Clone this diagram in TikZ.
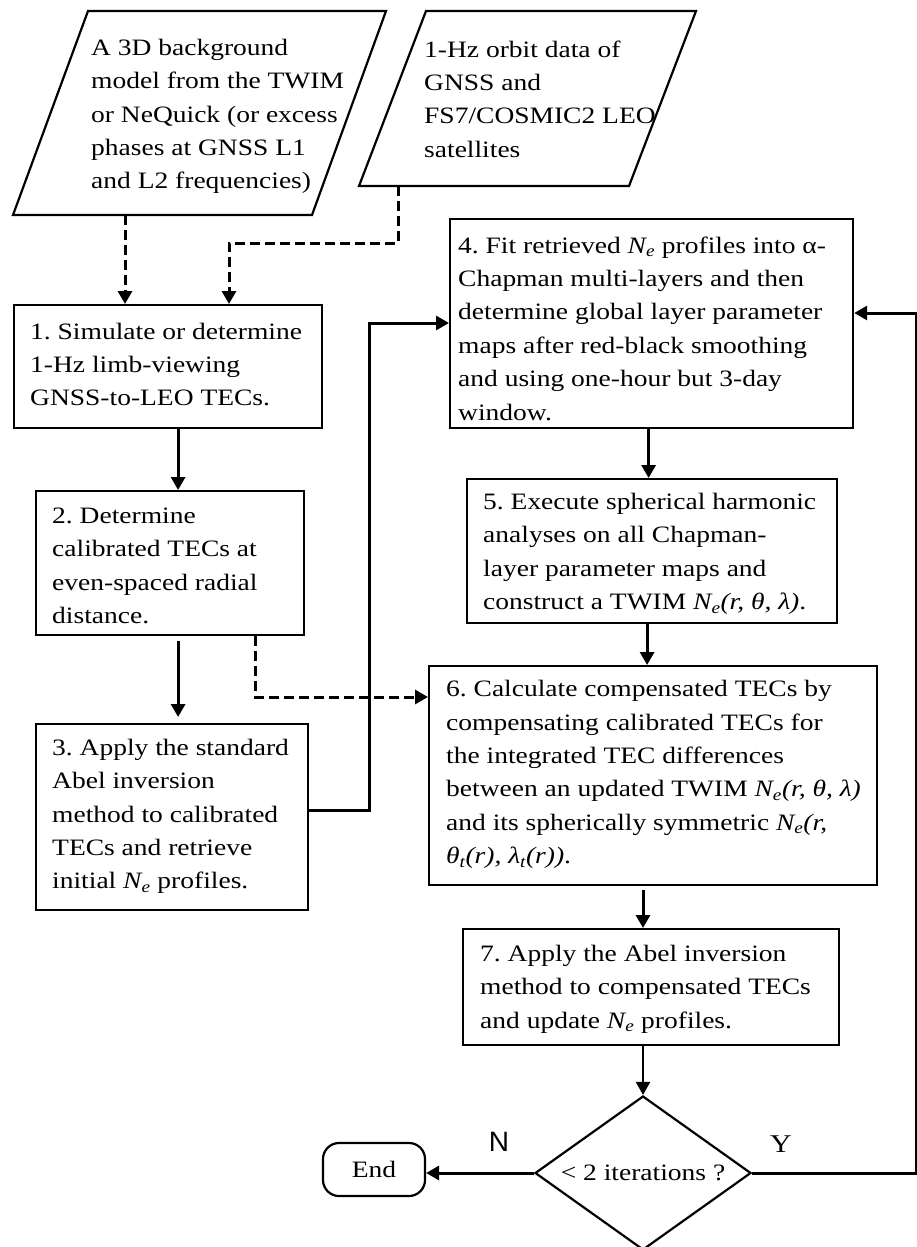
\documentclass[tikz,border=0pt]{standalone}
\usepackage{fontspec}
\setmainfont{Liberation Serif}[FakeStretch=1.17]
\setsansfont{Liberation Sans}
\usetikzlibrary{arrows.meta,shapes.geometric,calc}
\newcommand\Ne{\textit{N\textsubscript{e}}}
\frenchspacing
\begin{document}
\begin{tikzpicture}[x=1pt,y=-1pt,
  box/.style={draw, line width=2.2pt, inner sep=0pt, anchor=north west},
  outline/.style={draw, line width=2.2pt, line join=miter},
  txt/.style={anchor=west, align=left, inner sep=0pt, font=\fontsize{23.5}{33.4}\selectfont},
  arr/.style={line width=3pt, -{Triangle[length=13pt,width=14pt]}},
  darr/.style={arr, dash pattern=on 10pt off 5pt},
]
\useasboundingbox (0,0) rectangle (917,1247);

% input parallelograms
\coordinate (p1a) at (88,11); \coordinate (p1b) at (386,11);
\coordinate (p1c) at (312,215); \coordinate (p1d) at (13,215);
\draw[outline] (p1a) -- (p1b) -- (p1c) -- (p1d) -- cycle;
\node[txt] (tp1) at (91,116.5) {A 3D background\\model from the TWIM\\or NeQuick (or excess\\phases at GNSS L1\\and L2 frequencies)};

\coordinate (p2a) at (426,11); \coordinate (p2b) at (696,11);
\coordinate (p2c) at (629,186); \coordinate (p2d) at (359,186);
\draw[outline] (p2a) -- (p2b) -- (p2c) -- (p2d) -- cycle;
\node[txt] (tp2) at (424,99) {1-Hz orbit data of\\GNSS and\\FS7/COSMIC2 LEO\\satellites};

% process boxes
\node[box, minimum width=308pt, minimum height=123pt] (b1) at (13,304) {};
\node[txt] (t1) at (30,364.5) {1. Simulate or determine\\1-Hz limb-viewing\\GNSS-to-LEO TECs.};

\node[box, minimum width=268pt, minimum height=144pt] (b2) at (35,490) {};
\node[txt] (t2) at (52,566) {2. Determine\\calibrated TECs at\\even-spaced radial\\distance.};

\node[box, minimum width=272pt, minimum height=186pt] (b3) at (35,723) {};
\node[txt] (t3) at (52,816.5) {3. Apply the standard\\Abel inversion\\method to calibrated\\TECs and retrieve\\initial \Ne{} profiles.};

\node[box, minimum width=403pt, minimum height=209pt] (b4) at (449,218) {};
\node[txt] (t4) at (458,328.5) {4. Fit retrieved \Ne{} profiles into α-\\Chapman multi-layers and then\\determine global layer parameter\\maps after red-black smoothing\\and using one-hour but 3-day\\window.};

\node[box, minimum width=370pt, minimum height=144pt] (b5) at (466,478) {};
\node[txt] (t5) at (483,554) {5. Execute spherical harmonic\\analyses on all Chapman-\\layer parameter maps and\\construct a TWIM \textit{N\textsubscript{e}(r, θ, λ)}.};

\node[box, minimum width=448pt, minimum height=219pt] (b6) at (428,665) {};
\node[txt] (t6) at (446,774.5) {6. Calculate compensated TECs by\\compensating calibrated TECs for\\the integrated TEC differences\\between an updated TWIM \textit{N\textsubscript{e}(r, θ, λ)}\\and its spherically symmetric \textit{N\textsubscript{e}(r,}\\\textit{θ\textsubscript{t}(r), λ\textsubscript{t}(r))}.};

\node[box, minimum width=376pt, minimum height=116pt] (b7) at (462,928) {};
\node[txt] (t7) at (480,989) {7. Apply the Abel inversion\\method to compensated TECs\\and update \Ne{} profiles.};

% decision and end
\node[diamond, draw, line width=2.2pt, minimum width=216pt, minimum height=154pt, aspect=1.4, inner sep=0pt, font=\fontsize{23.5}{28}\selectfont] (dia) at (643,1173) {< 2 iterations ?};
\node[draw, line width=2.2pt, rounded corners=16pt, minimum width=102pt, minimum height=53pt, font=\fontsize{23.5}{28}\selectfont] (end) at (374,1169.5) {End};
\node[font=\fontsize{28}{28}\sffamily] (lN) at (499,1142) {N};
\node[font=\fontsize{25.5}{28}\selectfont] (lY) at (781,1144) {Y};

% connector helper points
\coordinate (p1out) at (125,215);
\coordinate (p2out) at (398,186);
\coordinate (d2) at (229,243);
\coordinate (b3r) at ($(b3.north east)+(0,87)$);
\coordinate (m34) at (369,323);
\coordinate (b4l) at ($(b4.north west)+(0,105)$);
\coordinate (b4r) at ($(b4.north east)+(0,95)$);
\coordinate (lp) at (916,313);
\coordinate (b2d) at ($(b2.south west)+(220,0)$);
\coordinate (b6l) at ($(b6.north west)+(0,32)$);

% connectors
\draw[darr] (p1out) -- (p1out |- b1.north);
\draw[darr] (p2out) |- (d2) -- (d2 |- b1.north);
\draw[arr] ([xshift=10pt]b1.south) -- ([xshift=10pt]b1.south |- b2.north);
\draw[arr, shorten <=5pt, shorten >=6pt] ([xshift=8pt]b2.south) -- ([xshift=8pt]b2.south |- b3.north);
\draw[darr] (b2d) |- (b6l);
\draw[arr] (b3r) -| (m34) -- (b4l);
\draw[arr] ([xshift=-3pt]b4.south) -- ([xshift=-3pt]b4.south |- b5.north);
\draw[arr] ([xshift=-5pt]b5.south) -- ([xshift=-5pt]b5.south |- b6.north);
\draw[arr, shorten <=4pt] (b6.south -| dia.north) -- (b7.north -| dia.north);
\draw[line width=2.2pt, -{Triangle[length=13pt,width=14pt]}] (b7.south -| dia.north) -- (dia.north);
\draw[arr] (dia.west) -- (dia.west -| end.east);
\draw[arr] (dia.east) -| (lp) -- (b4r);
\end{tikzpicture}
\end{document}
